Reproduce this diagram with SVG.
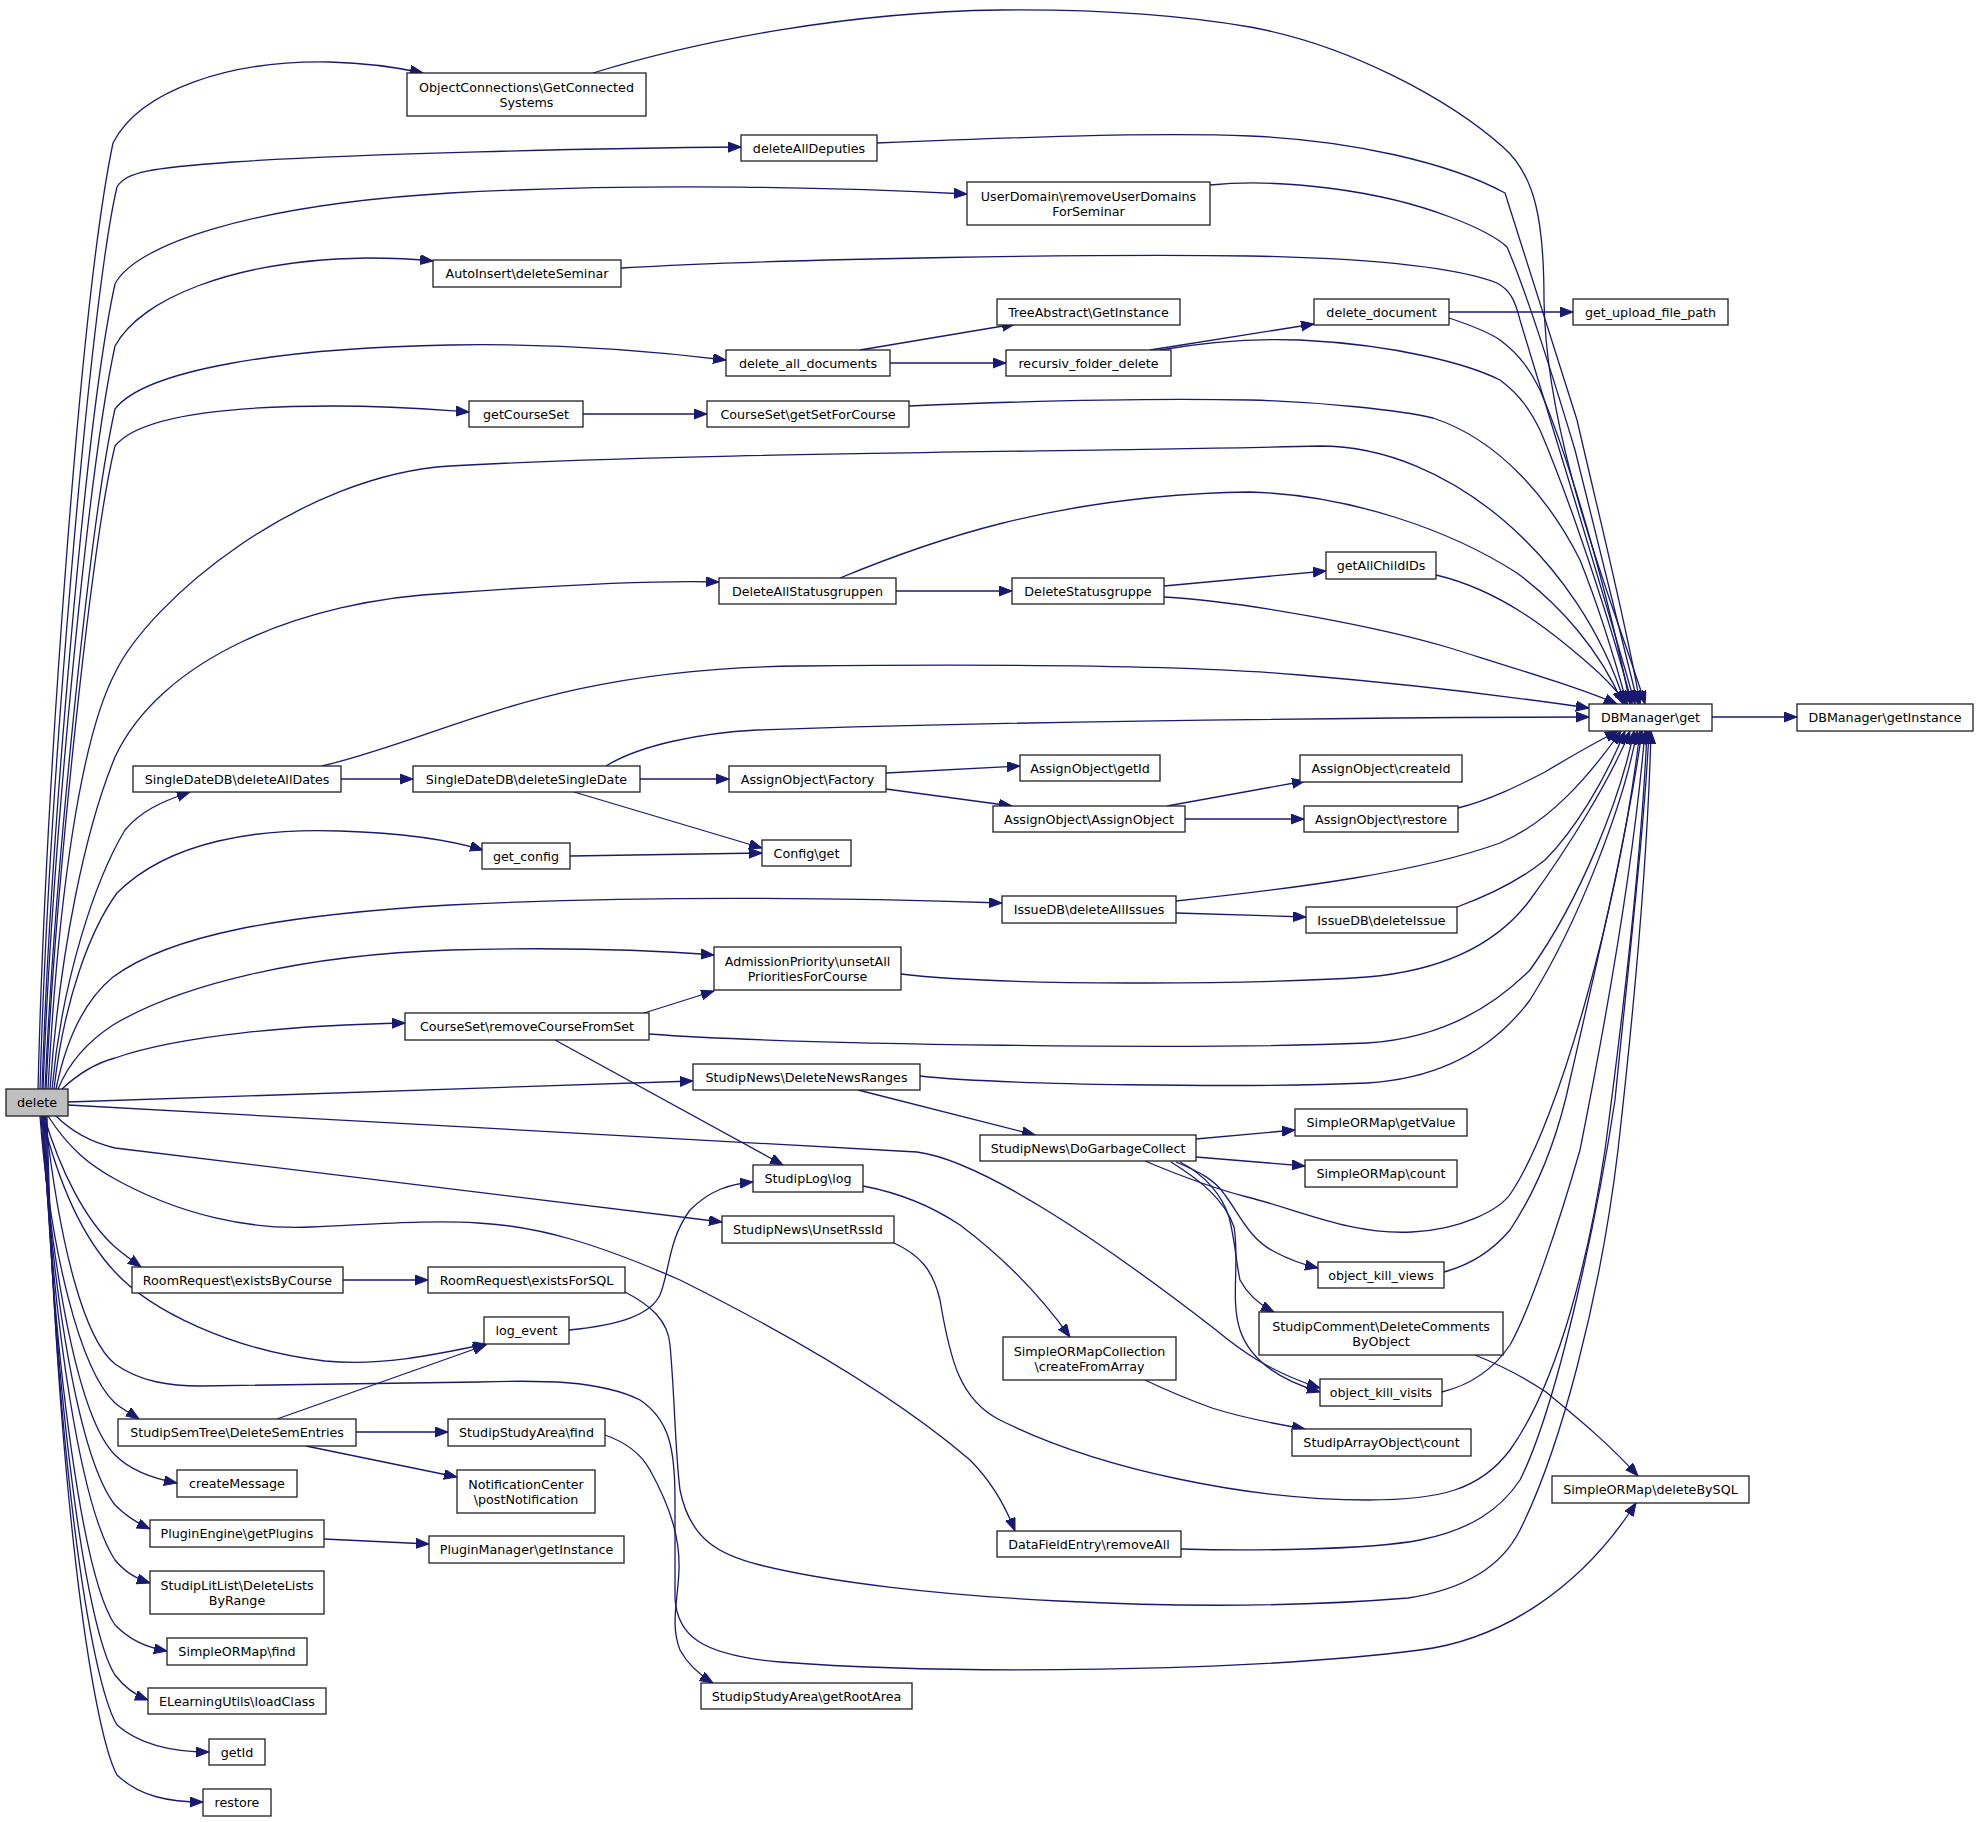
<svg xmlns="http://www.w3.org/2000/svg" width="1979" height="1822" viewBox="0 0 1979 1822">
<defs>
<style>
.n rect{fill:#ffffff;stroke:#202020;stroke-width:1.3}
.r rect{fill:#bfbfbf}
.n text{font-family:"DejaVu Sans","Liberation Sans",sans-serif;font-size:12.7px;fill:#000;text-anchor:middle}
.e path{fill:none;stroke:#191970;stroke-width:1.3;marker-end:url(#a)}
</style>
<marker id="a" markerUnits="userSpaceOnUse" markerWidth="14" markerHeight="11" refX="13" refY="5" orient="auto"><path d="M0,0 L13,5 L0,10 z" fill="#191970" stroke="#191970" stroke-width="1"/></marker>
</defs>
<rect width="1979" height="1822" fill="#ffffff"/>
<g id="edges" class="e">
<!-- delete upward -->
<path d="M38,1089 C45,800 80,300 113,143 C140,90 230,60 330,62 C370,63 400,68 423,73"/>
<path d="M40,1089 C48,800 90,300 117,187 C125,172 150,168 233,162 C350,154 600,148 741,147"/>
<path d="M42,1089 C50,850 85,420 115,284 C135,245 250,205 450,193 C650,182 850,188 967,194"/>
<path d="M43,1089 C52,850 88,470 115,346 C140,300 230,260 367,258 C395,258 415,259 433,261"/>
<path d="M45,1089 C55,870 90,520 115,409 C145,370 280,348 450,345 C560,343 660,352 726,360"/>
<path d="M46,1089 C56,880 92,540 115,446 C140,415 230,406 333,406 C400,406 440,410 469,412"/>
<path d="M48,1089 C58,900 80,740 115,673 C150,600 300,475 450,466 C700,452 1100,452 1320,446 C1450,446 1580,560 1625,704"/>
<path d="M50,1089 C60,950 85,830 115,757 C160,660 300,600 450,593 C560,585 650,580 719,582"/>
<path d="M52,1089 C62,980 95,880 125,830 C140,812 160,802 190,792"/>
<path d="M54,1089 C64,1000 90,930 117,893 C170,840 260,828 340,831 C400,833 450,840 483,850"/>
<path d="M56,1089 C66,1040 85,1000 113,977 C170,935 280,915 450,905 C650,895 850,898 1002,903"/>
<path d="M58,1089 C70,1060 90,1040 113,1025 C180,985 300,955 450,950 C560,947 650,950 714,955"/>
<path d="M62,1089 C80,1072 100,1062 115,1058 C180,1035 300,1025 405,1023"/>
<!-- delete rightward -->
<path d="M68,1102 C300,1095 500,1088 693,1081"/>
<path d="M68,1105 L917,1152 C980,1160 1100,1240 1216,1330 C1240,1350 1270,1372 1320,1388"/>
<path d="M56,1116 C70,1130 90,1142 115,1148 L722,1222"/>
<path d="M48,1116 C70,1150 90,1165 115,1179 C180,1215 250,1230 311,1227 C380,1224 430,1220 478,1223 C540,1226 600,1245 680,1280 C800,1340 900,1400 970,1460 C990,1480 1005,1505 1015,1531"/>
<path d="M44,1116 C60,1170 85,1220 115,1247 C122,1253 130,1259 141,1267"/>
<path d="M42,1116 C60,1190 85,1240 115,1272 C150,1310 230,1350 325,1361 C380,1366 430,1356 486,1344"/>
<path d="M45,1116 C60,1250 85,1340 115,1364 C140,1382 170,1386 201,1386 L478,1382 C540,1380 600,1380 640,1400 C670,1420 675,1450 675,1500 L675,1598 C677,1635 700,1655 780,1662 C950,1675 1250,1672 1420,1650 C1500,1640 1580,1590 1636,1503"/>
<!-- delete downward -->
<path d="M40,1116 C50,1250 80,1370 115,1403 C122,1409 130,1413 139,1419"/>
<path d="M41,1116 C52,1280 80,1420 115,1455 C130,1470 150,1478 177,1483"/>
<path d="M42,1116 C52,1300 80,1460 115,1505 C125,1515 135,1522 150,1529"/>
<path d="M43,1116 C52,1330 82,1510 115,1560 C125,1572 135,1578 150,1583"/>
<path d="M44,1116 C53,1370 84,1580 115,1625 C130,1640 145,1647 167,1651"/>
<path d="M45,1116 C54,1400 86,1630 115,1675 C125,1688 135,1695 148,1700"/>
<path d="M46,1116 C55,1450 90,1680 117,1725 C140,1745 175,1752 209,1752"/>
<path d="M47,1116 C56,1480 92,1730 117,1775 C140,1797 170,1802 203,1802"/>
<!-- into DBManager top -->
<path d="M593,73 C700,40 850,12 1000,10 C1100,9 1180,15 1250,27 C1350,45 1450,100 1503,147 C1535,175 1544,220 1544,300 C1546,450 1620,620 1645,704"/>
<path d="M877,143 C1000,138 1150,132 1250,136 C1350,140 1450,163 1505,193 L1577,420 C1600,520 1630,640 1640,704"/>
<path d="M1210,185 C1280,178 1380,190 1450,217 C1480,228 1500,240 1507,247 C1530,300 1560,400 1575,450 C1600,550 1625,650 1638,704"/>
<path d="M621,268 C800,258 1100,254 1250,256 C1350,258 1450,265 1497,283 C1510,290 1515,300 1520,320 C1550,420 1600,580 1635,704"/>
<path d="M1160,350 C1200,343 1250,338 1300,340 C1400,345 1470,365 1500,380 C1520,395 1530,410 1540,430 C1570,500 1610,620 1632,704"/>
<path d="M1449,318 C1470,325 1490,333 1500,340 C1520,355 1530,370 1540,390 C1570,460 1610,600 1630,704"/>
<path d="M909,406 C1050,400 1150,398 1250,400 C1320,402 1400,410 1433,418 C1500,440 1550,500 1580,560 C1600,610 1615,660 1627,704"/>
<path d="M840,578 C920,545 1050,495 1250,492 C1350,495 1450,530 1517,573 C1560,605 1600,650 1623,704"/>
<path d="M1164,597 C1250,602 1383,628 1450,648 C1520,670 1580,688 1617,704"/>
<path d="M1436,575 C1500,590 1550,630 1590,665 C1610,682 1620,695 1627,704"/>
<!-- into DBManager left -->
<path d="M322,766 C450,735 550,668 800,666 C1000,664 1200,666 1300,675 C1420,685 1520,698 1589,708"/>
<path d="M606,766 C640,745 700,733 757,730 C1000,722 1300,718 1589,717"/>
<!-- into DBManager bottom -->
<path d="M1458,808 C1490,800 1520,785 1545,772 C1570,757 1590,745 1618,731"/>
<path d="M1176,901 C1300,888 1420,872 1500,843 C1550,822 1590,775 1621,731"/>
<path d="M1457,907 C1490,895 1520,880 1545,860 C1575,830 1605,780 1625,731"/>
<path d="M901,974 C1000,986 1250,985 1367,977 C1450,970 1500,940 1530,900 C1570,845 1610,780 1630,731"/>
<path d="M649,1034 C800,1045 1200,1050 1367,1043 C1450,1038 1500,1000 1530,970 C1580,900 1620,800 1634,731"/>
<path d="M920,1076 C1000,1085 1250,1088 1367,1083 C1450,1078 1500,1040 1530,1000 C1580,920 1625,800 1637,731"/>
<path d="M1145,1161 C1190,1180 1220,1190 1247,1197 C1300,1210 1350,1235 1412,1232 C1460,1230 1500,1210 1511,1193 C1560,1120 1620,900 1640,731"/>
<path d="M1444,1272 C1470,1265 1493,1250 1510,1230 C1530,1200 1555,1150 1570,1080 C1600,950 1630,820 1642,731"/>
<path d="M1442,1392 C1470,1385 1493,1370 1510,1345 C1530,1310 1560,1220 1580,1150 C1610,1000 1635,850 1645,731"/>
<path d="M894,1243 C920,1255 933,1270 940,1300 C950,1360 960,1400 1000,1420 C1100,1470 1250,1500 1368,1500 C1440,1500 1480,1490 1510,1450 C1560,1380 1590,1250 1605,1150 C1625,1000 1642,850 1647,731"/>
<path d="M1181,1549 C1250,1551 1368,1550 1420,1540 C1470,1530 1500,1510 1520,1480 C1560,1400 1600,1200 1615,1100 C1630,950 1645,820 1649,731"/>
<path d="M625,1292 C650,1305 668,1320 670,1345 C675,1400 675,1450 680,1490 C690,1540 720,1555 760,1565 C900,1600 1200,1615 1408,1598 C1460,1590 1500,1570 1520,1530 C1560,1450 1600,1300 1618,1150 C1635,1000 1648,850 1651,731"/>
<!-- others -->
<path d="M1712,717 L1797,717"/>
<path d="M860,350 L1015,324"/>
<path d="M890,363 L1006,363"/>
<path d="M1150,350 L1314,324"/>
<path d="M1449,312 L1573,312"/>
<path d="M583,414 L707,414"/>
<path d="M896,591 L1012,591"/>
<path d="M1164,586 L1326,571"/>
<path d="M341,779 L413,779"/>
<path d="M640,779 L729,779"/>
<path d="M574,792 L762,848"/>
<path d="M886,773 L1020,766"/>
<path d="M886,789 L1012,806"/>
<path d="M1167,806 L1305,781"/>
<path d="M1185,819 L1304,819"/>
<path d="M570,856 L762,853"/>
<path d="M1176,913 L1306,917"/>
<path d="M644,1013 L714,991"/>
<path d="M555,1040 L783,1165"/>
<path d="M858,1090 L1035,1135"/>
<path d="M1196,1139 L1295,1130"/>
<path d="M1196,1157 L1305,1166"/>
<path d="M1176,1162 C1200,1172 1215,1180 1225,1195 C1240,1215 1250,1240 1275,1252 C1290,1260 1305,1265 1318,1268"/>
<path d="M1180,1162 C1205,1175 1222,1195 1229,1217 C1235,1240 1236,1262 1240,1280 C1248,1295 1260,1305 1274,1312"/>
<path d="M1171,1162 C1200,1180 1225,1200 1234,1227 C1240,1260 1230,1300 1240,1330 C1250,1360 1280,1380 1320,1392"/>
<path d="M863,1186 C900,1193 933,1207 960,1225 C1000,1255 1040,1295 1070,1337"/>
<path d="M1145,1380 C1170,1392 1190,1400 1212,1408 C1240,1417 1270,1423 1305,1429"/>
<path d="M1475,1355 C1500,1365 1525,1378 1546,1392 C1580,1420 1610,1445 1638,1476"/>
<path d="M569,1330 C620,1325 650,1315 660,1295 C670,1270 668,1240 690,1210 C710,1190 730,1184 753,1182"/>
<path d="M343,1280 L428,1280"/>
<path d="M277,1419 L486,1345"/>
<path d="M356,1432 L448,1432"/>
<path d="M306,1446 L457,1477"/>
<path d="M605,1435 C625,1442 640,1452 650,1470 C672,1510 680,1540 679,1570 C678,1600 670,1625 680,1650 C688,1665 700,1675 713,1683"/>
<path d="M324,1539 L429,1544"/>
</g>
<g id="n_delete" class="n r"><rect x="6" y="1089" width="62" height="27"/><text x="37" y="1107">delete</text></g>
<g id="n_objconn" class="n"><rect x="407" y="73" width="239" height="43"/><text x="526.5" y="91.5">ObjectConnections\GetConnected</text><text x="526.5" y="106.5">Systems</text></g>
<g id="n_deputies" class="n"><rect x="741" y="135" width="136" height="26"/><text x="809" y="152.5">deleteAllDeputies</text></g>
<g id="n_userdomain" class="n"><rect x="967" y="182" width="243" height="43"/><text x="1088.5" y="200.5">UserDomain\removeUserDomains</text><text x="1088.5" y="215.5">ForSeminar</text></g>
<g id="n_autoinsert" class="n"><rect x="433" y="260" width="188" height="27"/><text x="527" y="278">AutoInsert\deleteSeminar</text></g>
<g id="n_treeabstract" class="n"><rect x="997" y="299" width="183" height="26"/><text x="1088.5" y="316.5">TreeAbstract\GetInstance</text></g>
<g id="n_delalldocs" class="n"><rect x="726" y="350" width="164" height="26"/><text x="808" y="367.5">delete_all_documents</text></g>
<g id="n_recursiv" class="n"><rect x="1006" y="350" width="165" height="26"/><text x="1088.5" y="367.5">recursiv_folder_delete</text></g>
<g id="n_deldoc" class="n"><rect x="1314" y="299" width="135" height="26"/><text x="1381.5" y="316.5">delete_document</text></g>
<g id="n_upload" class="n"><rect x="1573" y="299" width="155" height="26"/><text x="1650.5" y="316.5">get_upload_file_path</text></g>
<g id="n_getcourseset" class="n"><rect x="469" y="401" width="114" height="26"/><text x="526" y="418.5">getCourseSet</text></g>
<g id="n_getsetforcourse" class="n"><rect x="707" y="401" width="202" height="26"/><text x="808" y="418.5">CourseSet\getSetForCourse</text></g>
<g id="n_delallsg" class="n"><rect x="719" y="578" width="177" height="26"/><text x="807.5" y="595.5">DeleteAllStatusgruppen</text></g>
<g id="n_delsg" class="n"><rect x="1012" y="578" width="152" height="26"/><text x="1088" y="595.5">DeleteStatusgruppe</text></g>
<g id="n_childids" class="n"><rect x="1326" y="552" width="110" height="27"/><text x="1381" y="570">getAllChildIDs</text></g>
<g id="n_dbget" class="n"><rect x="1589" y="704" width="123" height="27"/><text x="1650.5" y="722">DBManager\get</text></g>
<g id="n_dbinst" class="n"><rect x="1797" y="704" width="176" height="27"/><text x="1885" y="722">DBManager\getInstance</text></g>
<g id="n_sdalldates" class="n"><rect x="133" y="766" width="208" height="26"/><text x="237" y="783.5">SingleDateDB\deleteAllDates</text></g>
<g id="n_sdsingle" class="n"><rect x="413" y="766" width="227" height="26"/><text x="526.5" y="783.5">SingleDateDB\deleteSingleDate</text></g>
<g id="n_aofactory" class="n"><rect x="729" y="766" width="157" height="26"/><text x="807.5" y="783.5">AssignObject\Factory</text></g>
<g id="n_aogetid" class="n"><rect x="1020" y="755" width="140" height="26"/><text x="1090" y="772.5">AssignObject\getId</text></g>
<g id="n_aocreateid" class="n"><rect x="1300" y="755" width="162" height="27"/><text x="1381" y="773">AssignObject\createId</text></g>
<g id="n_aoao" class="n"><rect x="993" y="806" width="192" height="26"/><text x="1089" y="823.5">AssignObject\AssignObject</text></g>
<g id="n_aorestore" class="n"><rect x="1304" y="806" width="154" height="26"/><text x="1381" y="823.5">AssignObject\restore</text></g>
<g id="n_getconfig" class="n"><rect x="482" y="843" width="88" height="26"/><text x="526" y="860.5">get_config</text></g>
<g id="n_configget" class="n"><rect x="762" y="840" width="89" height="26"/><text x="806.5" y="857.5">Config\get</text></g>
<g id="n_issuesall" class="n"><rect x="1002" y="896" width="174" height="27"/><text x="1089" y="914">IssueDB\deleteAllIssues</text></g>
<g id="n_issuedel" class="n"><rect x="1306" y="907" width="151" height="26"/><text x="1381.5" y="924.5">IssueDB\deleteIssue</text></g>
<g id="n_admission" class="n"><rect x="714" y="947" width="187" height="43"/><text x="807.5" y="965.5">AdmissionPriority\unsetAll</text><text x="807.5" y="980.5">PrioritiesForCourse</text></g>
<g id="n_removecourse" class="n"><rect x="405" y="1013" width="244" height="27"/><text x="527" y="1031">CourseSet\removeCourseFromSet</text></g>
<g id="n_newsranges" class="n"><rect x="693" y="1064" width="227" height="26"/><text x="806.5" y="1081.5">StudipNews\DeleteNewsRanges</text></g>
<g id="n_garbage" class="n"><rect x="980" y="1135" width="216" height="26"/><text x="1088" y="1152.5">StudipNews\DoGarbageCollect</text></g>
<g id="n_getvalue" class="n"><rect x="1295" y="1109" width="172" height="27"/><text x="1381" y="1127">SimpleORMap\getValue</text></g>
<g id="n_count" class="n"><rect x="1305" y="1160" width="152" height="27"/><text x="1381" y="1178">SimpleORMap\count</text></g>
<g id="n_log" class="n"><rect x="753" y="1165" width="110" height="27"/><text x="808" y="1183">StudipLog\log</text></g>
<g id="n_unsetrss" class="n"><rect x="722" y="1216" width="172" height="27"/><text x="808" y="1234">StudipNews\UnsetRssId</text></g>
<g id="n_existsby" class="n"><rect x="132" y="1267" width="211" height="26"/><text x="237.5" y="1284.5">RoomRequest\existsByCourse</text></g>
<g id="n_existsfor" class="n"><rect x="428" y="1267" width="197" height="26"/><text x="526.5" y="1284.5">RoomRequest\existsForSQL</text></g>
<g id="n_killviews" class="n"><rect x="1318" y="1262" width="126" height="26"/><text x="1381" y="1279.5">object_kill_views</text></g>
<g id="n_logevent" class="n"><rect x="484" y="1317" width="85" height="27"/><text x="526.5" y="1335">log_event</text></g>
<g id="n_collection" class="n"><rect x="1003" y="1337" width="173" height="43"/><text x="1089.5" y="1355.5">SimpleORMapCollection</text><text x="1089.5" y="1370.5">\createFromArray</text></g>
<g id="n_comment" class="n"><rect x="1259" y="1312" width="244" height="43"/><text x="1381" y="1330.5">StudipComment\DeleteComments</text><text x="1381" y="1345.5">ByObject</text></g>
<g id="n_killvisits" class="n"><rect x="1320" y="1379" width="122" height="27"/><text x="1381" y="1397">object_kill_visits</text></g>
<g id="n_semtree" class="n"><rect x="118" y="1419" width="238" height="27"/><text x="237" y="1437">StudipSemTree\DeleteSemEntries</text></g>
<g id="n_areafind" class="n"><rect x="448" y="1419" width="157" height="27"/><text x="526.5" y="1437">StudipStudyArea\find</text></g>
<g id="n_arraycount" class="n"><rect x="1292" y="1429" width="179" height="27"/><text x="1381.5" y="1447">StudipArrayObject\count</text></g>
<g id="n_createmsg" class="n"><rect x="177" y="1470" width="120" height="27"/><text x="237" y="1488">createMessage</text></g>
<g id="n_notif" class="n"><rect x="457" y="1470" width="138" height="43"/><text x="526" y="1488.5">NotificationCenter</text><text x="526" y="1503.5">\postNotification</text></g>
<g id="n_deletebysql" class="n"><rect x="1552" y="1476" width="197" height="27"/><text x="1650.5" y="1494">SimpleORMap\deleteBySQL</text></g>
<g id="n_getplugins" class="n"><rect x="150" y="1520" width="174" height="27"/><text x="237" y="1538">PluginEngine\getPlugins</text></g>
<g id="n_pluginmgr" class="n"><rect x="429" y="1536" width="195" height="27"/><text x="526.5" y="1554">PluginManager\getInstance</text></g>
<g id="n_removeall" class="n"><rect x="997" y="1531" width="184" height="26"/><text x="1089" y="1548.5">DataFieldEntry\removeAll</text></g>
<g id="n_litlist" class="n"><rect x="150" y="1571" width="174" height="43"/><text x="237" y="1589.5">StudipLitList\DeleteLists</text><text x="237" y="1604.5">ByRange</text></g>
<g id="n_ormfind" class="n"><rect x="167" y="1638" width="140" height="27"/><text x="237" y="1656">SimpleORMap\find</text></g>
<g id="n_loadclass" class="n"><rect x="148" y="1688" width="178" height="26"/><text x="237" y="1705.5">ELearningUtils\loadClass</text></g>
<g id="n_rootarea" class="n"><rect x="701" y="1683" width="211" height="26"/><text x="806.5" y="1700.5">StudipStudyArea\getRootArea</text></g>
<g id="n_getid" class="n"><rect x="209" y="1739" width="56" height="26"/><text x="237" y="1756.5">getId</text></g>
<g id="n_restore" class="n"><rect x="203" y="1789" width="68" height="27"/><text x="237" y="1807">restore</text></g>
</svg>
